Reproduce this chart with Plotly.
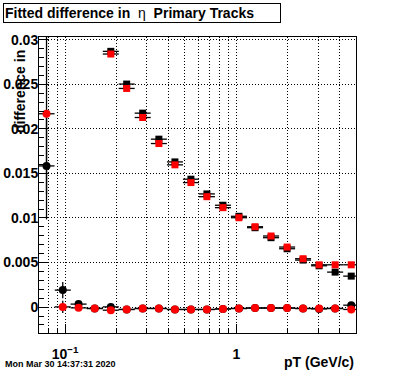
import plotly.graph_objects as go
import math

# ---- data ----
pt = [0.078, 0.097, 0.120, 0.149, 0.185, 0.229, 0.284, 0.353, 0.438, 0.543,
      0.673, 0.835, 1.035, 1.285, 1.593, 1.977, 2.45, 3.04, 3.77, 4.68]

# circles (near-zero series)
black_circ = [0.01584, 0.00191, 0.00034, -0.00015, 0.00003, -0.00026, -0.00015, -0.00015, -0.00026, -0.00026,
              -0.00026, -0.00020, -0.00015, -0.00010, -0.00010, -0.00010, -0.00015, -0.00020, -0.00015, 0.00022]
black_circ_err = [0.0060, 0.0009, 0.0003, 0.0002, 0.0002, 0.0002, 0.0002, 0.0002, 0.0002, 0.0002,
                  0.0002, 0.0002, 0.0002, 0.0002, 0.0002, 0.0002, 0.0002, 0.0002, 0.0002, 0.0002]
red_circ = [0.02169, 0.00003, -0.00008, -0.00015, -0.00034, -0.00026, -0.00015, -0.00015, -0.00026, -0.00026,
            -0.00026, -0.00020, -0.00015, -0.00010, -0.00010, -0.00010, -0.00015, -0.00015, -0.00015, -0.00026]
red_circ_err = [0.0090, 0.0007, 0.0002, 0.0002, 0.0002, 0.0002, 0.0002, 0.0002, 0.0002, 0.0002,
                0.0002, 0.0002, 0.0002, 0.0002, 0.0002, 0.0002, 0.0002, 0.0002, 0.0002, 0.0002]

# squares (start at 5th bin)
pt_sq = pt[4:]
black_sq = [0.02869, 0.02502, 0.02176, 0.01884, 0.01629, 0.01435, 0.01270, 0.01143,
            0.01019, 0.00891, 0.00779, 0.00655, 0.00528, 0.00464, 0.00393, 0.00348]
red_sq = [0.02839, 0.02453, 0.02127, 0.01835, 0.01596, 0.01397, 0.01239, 0.01116,
          0.01003, 0.00902, 0.00798, 0.00674, 0.00543, 0.00475, 0.00475, 0.00475]

y_ticks = [0, 0.005, 0.01, 0.015, 0.02, 0.025, 0.03]
y_ticktext = ["0", "0.005", "0.01", "0.015", "0.02", "0.025", "0.03"]
x_ticks = [0.1, 1]
x_ticktext = ["10<sup>\u22121</sup>", "1"]
x_minor = [0.08, 0.09, 0.2, 0.3, 0.4, 0.5, 0.6, 0.7, 0.8, 0.9, 2, 3, 4]

title_text = "<b>Fitted difference in</b>  \u03b7  <b>Primary Tracks</b>"
ytitle_text = "difference in"
xtitle_text = "pT (GeV/c)"
date_text = "Mon Mar 30 14:37:31 2020"

# ---- geometry ----
W, H = 396, 372
ML, MR, MT, MB = 39, 40, 37, 39
PW, PH = W - ML - MR, H - MT - MB
FONT = "Liberation Sans"

def px(x):
    return (x - ML) / PW

def py(y):
    return (H - MB - y) / PH

half_log = 0.0468  # half bin width in decades
fac = 10 ** half_log

def xerr(xs):
    plus = [x * (fac - 1) for x in xs]
    minus = [x * (1 - 1 / fac) for x in xs]
    return plus, minus

fig = go.Figure()

def add(xs, ys, yerr, color, symbol, size):
    ep, em = xerr(xs)
    fig.add_trace(go.Scatter(
        x=xs, y=ys, mode="markers",
        marker=dict(color=color, symbol=symbol, size=size, line=dict(width=0)),
        error_x=dict(type="data", array=ep, arrayminus=em, symmetric=False,
                     color="black", thickness=1.3, width=0),
        error_y=dict(type="data", array=yerr, color="black", thickness=1.3, width=0),
        showlegend=False, cliponaxis=True, hoverinfo="skip",
    ))

add(pt, black_circ, black_circ_err, "black", "circle", 8)
add(pt_sq, black_sq, [0.0002] * len(pt_sq), "black", "square", 7)
add(pt, red_circ, red_circ_err, "red", "circle", 8)
add(pt_sq, red_sq, [0.0002] * len(pt_sq), "red", "square", 7)

tickfont = dict(family=FONT, size=14, color="black", weight="bold")

fig.update_layout(
    width=W, height=H,
    margin=dict(l=ML, r=MR, t=MT, b=MB, pad=0, autoexpand=False),
    paper_bgcolor="white", plot_bgcolor="white",
    xaxis=dict(
        type="log", range=[math.log10(0.0705), math.log10(4.99)],
        automargin=False,
        showline=True, linecolor="black", linewidth=1, mirror=True,
        tickmode="array", tickvals=x_ticks, ticktext=x_ticktext,
        ticks="inside", ticklen=9, tickcolor="black", tickwidth=1,
        showgrid=True, gridcolor="black", gridwidth=1, griddash="1px,2px",
        minor=dict(tickmode="array", tickvals=x_minor, ticks="inside", ticklen=5,
                   tickcolor="black", showgrid=True, gridcolor="black",
                   gridwidth=1, griddash="1px,2px"),
        tickfont=tickfont, ticklabelstandoff=8, zeroline=False,
    ),
    yaxis=dict(
        range=[-0.0029, 0.0303],
        automargin=False,
        showline=True, linecolor="black", linewidth=1, mirror=True,
        tickmode="array", tickvals=y_ticks, ticktext=y_ticktext,
        ticks="inside", ticklen=9, tickcolor="black", tickwidth=1,
        showgrid=True, gridcolor="black", gridwidth=1, griddash="1px,2px",
        minor=dict(dtick=0.001, tick0=0, ticks="inside", ticklen=5,
                   tickcolor="black", showgrid=False),
        tickfont=tickfont, ticklabelstandoff=-3, zeroline=False,
    ),
    annotations=[
        dict(text=title_text, xref="paper", yref="paper", x=px(3), y=py(3),
             xanchor="left", yanchor="top", showarrow=False, align="left",
             font=dict(family=FONT, size=14, color="black"),
             bordercolor="black", borderwidth=1, borderpad=1,
             width=274, height=16, bgcolor="white"),
        dict(text="<b>" + ytitle_text + "</b>", xref="paper", yref="paper",
             x=px(20), y=py(92), xanchor="center", yanchor="middle",
             textangle=-90, showarrow=False,
             font=dict(family=FONT, size=14, color="black")),
        dict(text="<b>" + xtitle_text + "</b>", xref="paper", yref="paper",
             x=px(356), y=py(362), xanchor="right", yanchor="middle",
             showarrow=False, font=dict(family=FONT, size=14, color="black")),
        dict(text="<b>" + date_text + "</b>", xref="paper", yref="paper",
             x=px(3), y=py(364), xanchor="left", yanchor="middle",
             showarrow=False, font=dict(family=FONT, size=9, color="black")),
    ],
)

fig.write_html("out.html", config={"displayModeBar": False, "staticPlot": True},
               post_script="document.body.style.margin='0';")
